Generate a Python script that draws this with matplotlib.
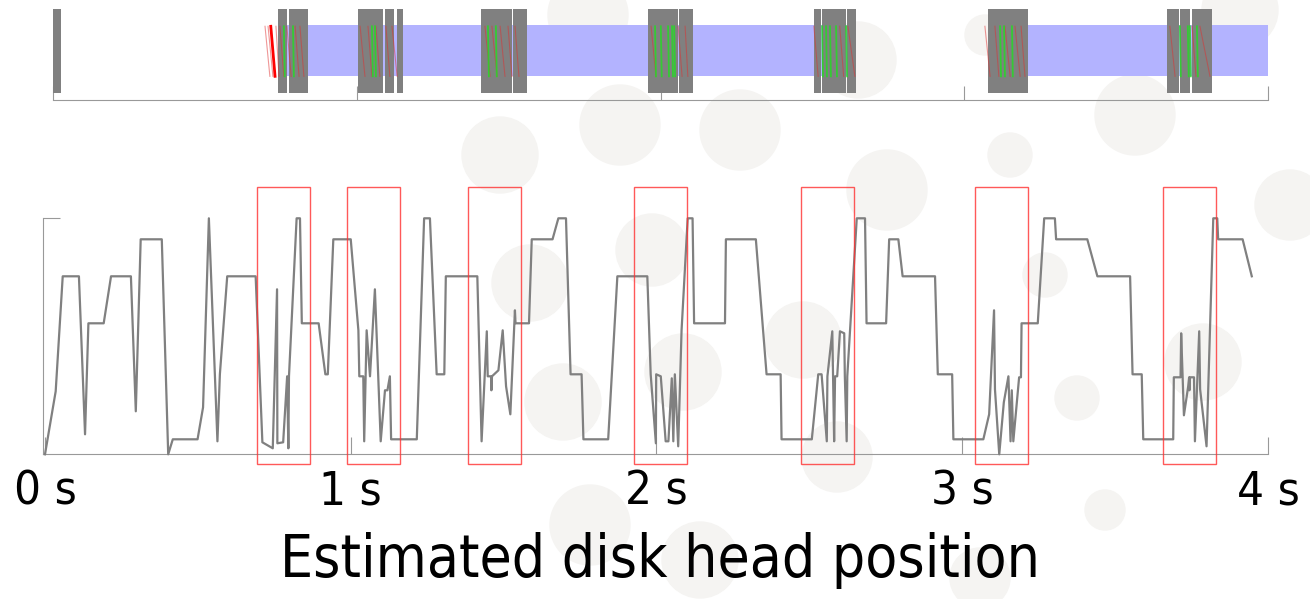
import matplotlib
matplotlib.use("Agg")
import matplotlib.pyplot as plt
from matplotlib.patches import Rectangle, Ellipse

# --- Estimated head position (time in ms, position in arbitrary units) ---
t_ms = [0, 35, 58, 111, 131, 142, 192, 216, 281, 297, 313, 382, 403, 418, 499,
        517, 536, 564, 572, 596, 689, 711, 745, 759, 760, 779, 792, 796, 798,
        823, 834, 840, 895, 917, 925, 943, 1000, 1025, 1028, 1041, 1044, 1052,
        1063, 1079, 1098, 1112, 1120, 1128, 1132, 1216, 1240, 1259, 1281, 1306,
        1311, 1414, 1428, 1445, 1448, 1459, 1460, 1462, 1483, 1497, 1508, 1522,
        1537, 1539, 1583, 1592, 1660, 1679, 1704, 1719, 1755, 1761, 1842, 1872,
        1970, 1981, 1998, 1999, 2014, 2030, 2039, 2050, 2055, 2060, 2071, 2082,
        2102, 2118, 2123, 2224, 2227, 2325, 2360, 2406, 2409, 2508, 2529, 2540,
        2557, 2559, 2575, 2581, 2584, 2591, 2600, 2614, 2616, 2622, 2624, 2655,
        2682, 2687, 2751, 2761, 2791, 2805, 2911, 2920, 2967, 2971, 3069, 3088,
        3104, 3107, 3121, 3136, 3151, 3158, 3162, 3167, 3186, 3192, 3194, 3247,
        3268, 3303, 3307, 3409, 3442, 3549, 3557, 3587, 3592, 3690, 3692, 3714,
        3716, 3725, 3739, 3742, 3743, 3745, 3758, 3761, 3775, 3778, 3799, 3821,
        3834, 3837, 3917, 3947]
pos = [0, 63, 178, 178, 20, 131, 131, 178, 178, 43, 215, 215, 0, 15, 15,
       47, 236, 13, 80, 178, 178, 12, 6, 165, 11, 12, 78, 6, 78,
       236, 236, 131, 131, 80, 80, 215, 215, 124, 78, 78, 13, 124,
       78, 165, 13, 64, 64, 78, 15, 15, 236, 236, 80, 80,
       178, 178, 13, 123, 78, 78, 64, 78, 84, 124, 68, 40,
       144, 131, 131, 215, 215, 236, 236, 80, 80, 15, 15, 178,
       178, 80, 11, 80, 78, 13, 13, 76, 13, 80, 8, 124,
       236, 236, 131, 131, 215, 215, 80, 80, 15, 15, 80, 80,
       13, 78, 123, 13, 78, 78, 123, 121, 78, 13, 78, 236,
       236, 131, 131, 215, 215, 178, 178, 80, 80, 15, 15, 40,
       144, 65, 0, 52, 78, 13, 64, 13, 77, 77, 131, 131,
       236, 236, 215, 215, 178, 178, 80, 80, 15, 15, 77, 77,
       121, 39, 68, 77, 64, 77, 77, 13, 123, 65, 8, 236,
       236, 215, 215, 178]

# highlighted seek bursts (start time, s)
box_start = [0.693, 0.988, 1.383, 1.926, 2.473, 3.042, 3.657]
box_width = 0.173

# --- top timeline: I/O request blocks (start, end in s) ---
block_start = [0.000, 0.741, 0.777, 1.004, 1.093, 1.133, 1.409, 1.514, 1.959,
               2.061, 2.505, 2.532, 2.614, 3.078, 3.667, 3.710, 3.750]
block_end = [0.026, 0.770, 0.840, 1.086, 1.123, 1.152, 1.511, 1.560, 2.058,
             2.107, 2.528, 2.611, 2.644, 3.210, 3.707, 3.743, 3.816]
busy_start = [0.757, 3.078]
busy_end = [2.644, 4.000]

# seeks drawn as slanted strokes (top time, bottom time)
red_top = [0.717, 0.698, 0.708, 0.734, 0.747, 0.770, 0.797, 0.813,
           1.011, 1.037, 1.063, 1.096, 1.116,
           1.422, 1.445, 1.472, 1.498, 1.521,
           1.969, 2.058, 2.081,
           2.505, 2.590, 2.617,
           3.068, 3.101, 3.134, 3.167, 3.187,
           3.677, 3.750, 3.776]
red_bot = [0.731, 0.714, 0.724, 0.744, 0.760, 0.784, 0.810, 0.826,
           1.027, 1.050, 1.076, 1.109, 1.133,
           1.439, 1.462, 1.488, 1.511, 1.534,
           1.985, 2.071, 2.090,
           2.519, 2.603, 2.640,
           3.085, 3.114, 3.151, 3.184, 3.200,
           3.694, 3.763, 3.809]
green_t = [0.760, 0.790, 1.050, 1.060, 1.432, 1.458, 1.982, 2.001, 2.025,
           2.038, 2.045, 2.532, 2.545, 2.558, 2.578, 2.611, 3.118, 3.131,
           3.157, 3.710, 3.736, 3.743, 3.766]

# background bubbles (figure pixels: x, y from top, radius)
bub_x = [588, 500, 620, 530, 563, 652, 683, 740, 803, 887, 858, 985, 1010,
         1045, 1077, 1135, 1203, 1290, 1240, 590, 700, 837, 1105, 980]
bub_y = [15, 155, 125, 283, 402, 250, 372, 130, 340, 190, 60, 35, 155,
         275, 398, 115, 362, 205, 10, 525, 560, 457, 510, 578]
bub_r = [40, 38, 40, 38, 38, 36, 38, 40, 38, 40, 38, 20, 22,
         22, 22, 40, 38, 35, 38, 40, 38, 35, 20, 30]

W, H = 1310, 599
fig = plt.figure(figsize=(W / 100, H / 100), dpi=100)

for bx, by, br in zip(bub_x, bub_y, bub_r):
    fig.patches.append(Ellipse((bx / W, 1 - by / H), 2 * br / W, 2 * br / H,
                               transform=fig.transFigure, color="#f5f4f2",
                               zorder=-5))

gray = "#808080"

# ---------------- top: request timeline ----------------
ax1 = fig.add_axes([53 / W, 1 - 100 / H, (1268 - 53) / W, 91 / H])
ax1.set_facecolor("none")
ax1.set_xlim(0, 4)
ax1.set_ylim(0, 1)
for s, e in zip(busy_start, busy_end):
    ax1.add_patch(Rectangle((s, 0.26), e - s, 0.56, color="#b3b3ff", lw=0,
                            zorder=1))
for s, e in zip(block_start, block_end):
    ax1.add_patch(Rectangle((s, 0.08), e - s, 0.92, color="#808080", lw=0,
                            zorder=2))
for a, b in zip(red_top, red_bot):
    ax1.plot([a, b], [0.81, 0.26], color="#e03030", lw=0.8, alpha=0.5,
             zorder=3)
ax1.plot([red_top[0], red_bot[0]], [0.81, 0.26], color="red", lw=2, zorder=3)
for g in green_t:
    ax1.plot([g, g + 0.003], [0.81, 0.26], color="#22dd22", lw=1.3,
             alpha=0.8, zorder=3)
for sp in ["left", "right", "top"]:
    ax1.spines[sp].set_visible(False)
ax1.spines["bottom"].set_color("#999999")
ax1.set_xticks([0, 1, 2, 3, 4])
ax1.set_yticks([])
ax1.tick_params(axis="x", direction="in", length=10, color="#999999",
                labelbottom=False)

# ---------------- bottom: head position ----------------
ax2 = fig.add_axes([43 / W, 1 - 454.3 / H, (1268 - 43) / W, 236 / H])
ax2.set_facecolor("none")
t_s = [v / 1000 for v in t_ms]
ax2.plot(t_s, pos, color=gray, lw=1.6, zorder=3, clip_on=False)
for b in box_start:
    ax2.add_patch(Rectangle((b, -10), box_width, 277, fill=False,
                            edgecolor="#ff3030", lw=1, alpha=0.8,
                            clip_on=False, zorder=4))
ax2.set_xlim(-0.0065, 4.0)
ax2.set_ylim(0, 236)
for sp in ["right", "top"]:
    ax2.spines[sp].set_visible(False)
for sp in ["left", "bottom"]:
    ax2.spines[sp].set_color("#999999")
ax2.set_yticks([236])
ax2.set_yticklabels([])
ax2.set_xticks([0, 1, 2, 3, 4])
ax2.set_xticklabels(["0 s", "1 s", "2 s", "3 s", "4 s"])
ax2.tick_params(direction="in", length=12, color="#999999")
ax2.tick_params(axis="x", pad=11, labelsize=34)
for lab in ax2.get_xticklabels():
    lab.set_fontstretch("condensed")

fig.text(660 / W, 1 - 577 / H, "Estimated disk head position", ha="center",
         va="baseline", fontsize=42, fontstretch="condensed")

fig.savefig("out.png", dpi=100)
